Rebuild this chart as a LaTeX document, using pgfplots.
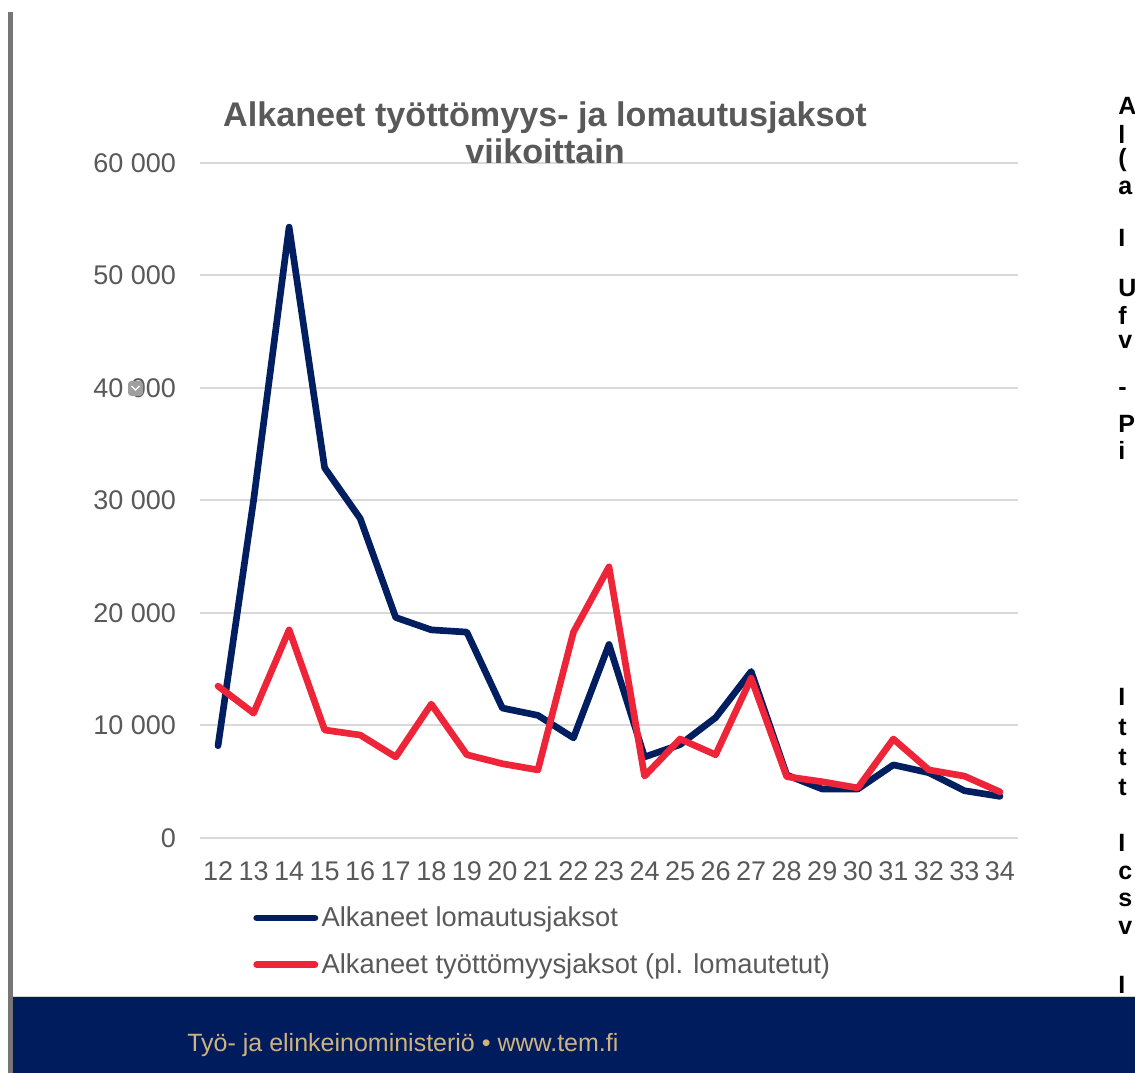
\documentclass[border=0pt]{standalone}
\usepackage{fontspec}
\setmainfont{Liberation Sans}
\usepackage{pgfplots}
\pgfplotsset{compat=1.18}
\definecolor{navyline}{RGB}{0,30,96}
\definecolor{redline}{RGB}{238,36,56}
\definecolor{footernavy}{RGB}{0,28,92}
\definecolor{titlegray}{RGB}{89,89,89}
\definecolor{labelgray}{RGB}{89,89,89}
\definecolor{gridgray}{RGB}{217,217,217}
\definecolor{bargray}{RGB}{118,118,118}
\definecolor{tan}{RGB}{208,178,124}
\begin{document}
\begin{tikzpicture}
\path[use as bounding box, fill=white] (0pt,0pt) rectangle (681pt,643.8pt);
\fill[bargray] (4.8pt,0pt) rectangle (7.8pt,636.6pt);
\fill[footernavy] (7.8pt,0pt) rectangle (681pt,45.6pt);
\draw[color=gray!35, line width=0.8pt] (7.8pt,45.9pt) -- (681pt,45.9pt);
\node[font=\fontsize{15}{18}\selectfont, text=tan, anchor=west, inner sep=0pt] at (112.2pt,16.8pt) {Työ- ja elinkeinoministeriö • www.tem.fi};

% clipped text fragments at the right edge of the slide
\begin{scope}
\clip (660pt,0pt) rectangle (681pt,643.8pt);
\foreach \yy/\ch in {106/A,134/l,160/(,188/a,238/I,288/U,315/f,342/v,392/-,424/P,450/i,697/I,727/t,757/t,787/t,843/I,873/c,900/s,928/v,985/I}{
  \node[font=\bfseries\fontsize{15}{17}\selectfont, text=black, anchor=west, inner sep=0pt] at (670.8pt,{0.6*(1073-\yy)*1pt}) {\ch};
}
\end{scope}

\begin{axis}[
  at={(120.15pt,141pt)}, anchor=south west,
  scale only axis, width=490.5pt, height=405pt,
  xmin=11.5, xmax=34.5, ymin=0, ymax=60000,
  axis line style={draw=none}, tick style={draw=none},
  major tick length=0pt,
  ymajorgrids, grid style={color=gridgray, line width=1.2pt},
  xtick={12,...,34},
  ytick={0,10000,20000,30000,40000,50000,60000},
  yticklabels={0,10 000,20 000,30 000,40 000,50 000,60 000},
  scaled y ticks=false,
  /pgf/number format/assume math mode=true,
  tick label style={font=\fontsize{16.2}{19}\selectfont, text=labelgray, inner sep=0pt},
  yticklabel style={xshift=-14.4pt},
  xticklabel style={yshift=-14pt},
  clip=false,
  legend cell align=left,
  legend style={draw=none, fill=none, at={(axis description cs:0.0645,-0.1014)}, anchor=north west,
    inner sep=0pt, row sep=14.7pt, font=\fontsize{16.4}{19}\selectfont, text=labelgray,
    nodes={inner sep=0pt},
    /tikz/every odd column/.append style={column sep=2pt}},
  legend image code/.code={\draw[#1, line cap=round] (0pt,0pt) -- (35pt,0pt);},
]
\addplot[navyline, line width=4pt, line join=round, line cap=round] coordinates {
(12,8200) (13,30000) (14,54300) (15,32900) (16,28400) (17,19600) (18,18500) (19,18300)
(20,11550) (21,10900) (22,8900) (23,17200) (24,7200) (25,8300) (26,10700) (27,14800)
(28,5600) (29,4350) (30,4350) (31,6500) (32,5800) (33,4200) (34,3700)};
\addlegendentry{Alkaneet lomautusjaksot}
\addplot[redline, line width=4pt, line join=round, line cap=round] coordinates {
(12,13500) (13,11100) (14,18500) (15,9600) (16,9150) (17,7200) (18,11900) (19,7400)
(20,6600) (21,6050) (22,18300) (23,24100) (24,5500) (25,8800) (26,7400) (27,14200)
(28,5450) (29,5000) (30,4450) (31,8800) (32,6050) (33,5500) (34,4100)};
\addlegendentry{Alkaneet työttömyysjaksot (pl. lomautetut)}
\end{axis}

\node[font=\bfseries\fontsize{20.5}{24}\selectfont, text=titlegray, anchor=base, inner sep=0pt] at (327pt,567.9pt) {Alkaneet työttömyys- ja lomautusjaksot};
\node[font=\bfseries\fontsize{20.5}{24}\selectfont, text=titlegray, anchor=base, inner sep=0pt] at (327pt,545.4pt) {viikoittain};
\fill[gray!75, rounded corners=2pt] (76.8pt,406.2pt) rectangle (85.8pt,415.2pt);
\draw[white, line width=0.8pt] (78.9pt,412.2pt) -- (81.3pt,409.8pt) -- (83.7pt,412.2pt);
\end{tikzpicture}
\end{document}
